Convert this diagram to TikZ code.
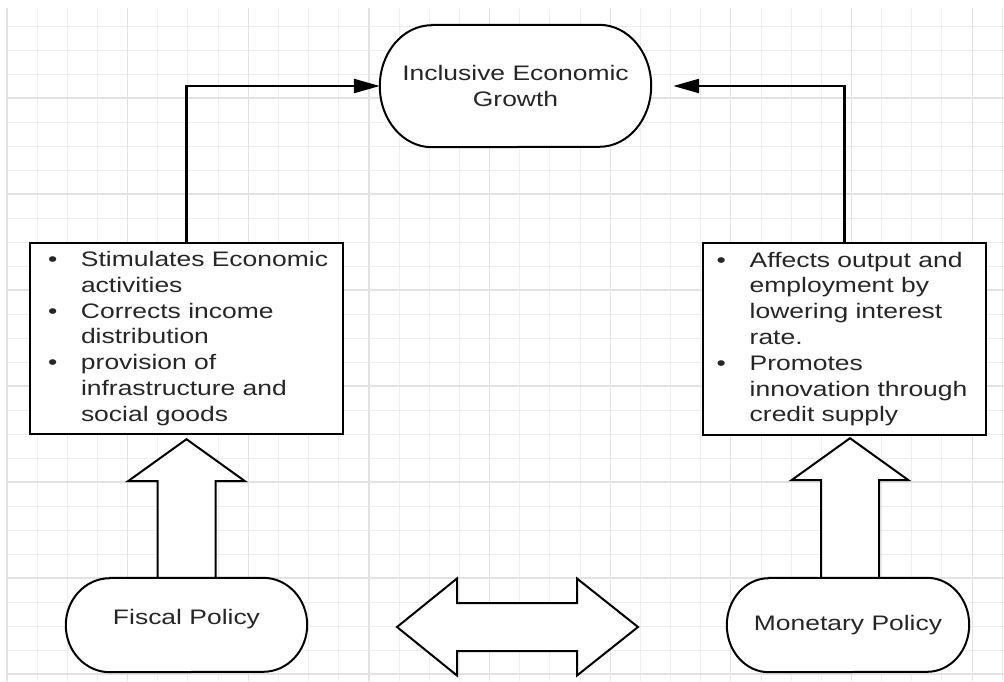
\documentclass[tikz,border=0pt]{standalone}
\usepackage{fontspec}
\setmainfont{Liberation Sans}[FakeStretch=1.26]
\usetikzlibrary{calc,arrows.meta}
\definecolor{gridminor}{HTML}{EDEDED}
\definecolor{gridmajor}{HTML}{E2E2E2}
\definecolor{txt}{HTML}{262626}
\pgfdeclarelayer{bg}
\pgfdeclarelayer{mid}
\pgfsetlayers{bg,mid,main}
\tikzset{
  gridminorline/.style={draw=gridminor, line width=1pt},
  gridmajorline/.style={draw=gridmajor, line width=1.2pt},
  shapeline/.style={draw=black, line width=2pt, fill=white},
  holder/.style={rectangle, draw=none, inner sep=0pt, text=txt, font=\fontsize{21}{25.8}\selectfont, align=center},
  boxnode/.style={rectangle, draw=black, line width=2.4pt, fill=white, inner sep=0pt},
  txtnode/.style={inner sep=0pt, text=txt, font=\fontsize{21}{25.8}\selectfont, align=left},
  conn/.style={draw=black, line width=2.4pt, -{Triangle[length=26pt,width=14pt]}},
  blockarrow/.style={draw=black, line width=2pt, fill=white, line join=miter},
}
\newcommand{\bul}{\makebox[33pt][l]{•}}
\newcommand{\ind}{\hspace*{33pt}}
\newcommand{\stadiumpath}[3]{%
  \draw[shapeline] ($(#1.north west)+(#2,0)$) -- ($(#1.north east)+(-#2,0)$)
    arc (-90:90:#2 and #3) -- ($(#1.south west)+(#2,0)$)
    arc (90:270:#2 and #3) -- cycle;}
\newcommand{\upblock}[2]{%
  \draw[blockarrow] let \p1=(#1), \p2=(#2) in
    (\x1-29pt,\y1) -- (\x1-29pt,\y2-42pt) -- (\x1-58.5pt,\y2-42pt) -- (\x1,\y2)
    -- (\x1+58.5pt,\y2-42pt) -- (\x1+29pt,\y2-42pt) -- (\x1+29pt,\y1) -- cycle;}
\begin{document}
\begin{tikzpicture}[x=1pt,y=-1pt]
\useasboundingbox (0,0) rectangle (1004,681);
\begin{pgfonlayer}{bg}
  \fill[white] (0,0) rectangle (1004,681);
  \foreach \k in {0,...,33} {
    \draw[gridminorline] ({7+30.16*\k},8) -- ({7+30.16*\k},681);
  }
  \foreach \k in {0,...,27} {
    \draw[gridminorline] (7,{26+24*\k}) -- (1004,{26+24*\k});
  }
  \foreach \k in {0,4,...,32} {
    \draw[gridmajorline] ({7+30.16*\k},8) -- ({7+30.16*\k},681);
  }
  \foreach \k in {0,...,6} {
    \draw[gridmajorline] (7,{98+96*\k}) -- (1004,{98+96*\k});
  }
\end{pgfonlayer}

% oval nodes
\node[holder, minimum width=271pt, minimum height=122pt] (top) at (515.5,86) {Inclusive Economic\\Growth};
\node[holder, minimum width=241pt, minimum height=94pt] (fisc) at (186.5,625) {\raisebox{1pt}[1pt][1pt]{Fiscal Policy}};
\node[holder, minimum width=242pt, minimum height=94pt] (mon) at (848,625) {Monetary Policy};

% boxes
\node[boxnode, minimum width=313pt, minimum height=191pt] (lbox) at (186.5,338.5) {};
\node[txtnode, anchor=west] (ltext) at ($(lbox.west)+(19,0)$)
  {\bul Stimulates Economic\\\ind activities\\\bul Corrects income\\\ind distribution\\\bul provision of\\\ind infrastructure and\\\ind social goods};
\node[boxnode, minimum width=283pt, minimum height=192pt] (rbox) at (844.5,339) {};
\node[txtnode, anchor=west] (rtext) at ($(rbox.west)+(14.7,0)$)
  {\bul Affects output and\\\ind employment by\\\ind lowering interest\\\ind rate.\\\bul Promotes\\\ind innovation through\\\ind credit supply};

\begin{pgfonlayer}{mid}
  \stadiumpath{top}{52}{61}
  \stadiumpath{fisc}{44}{47}
  \stadiumpath{mon}{42}{47}
  \upblock{fisc.north}{$(lbox.south)+(0,4)$}
  \upblock{$(mon.north)+(2,0)$}{$(rbox.south)+(0,2)$}
  \coordinate (dl) at (397,627);
  \coordinate (dr) at (638,627);
  \draw[blockarrow] let \p1=(dl), \p2=(dr) in
    (\p1) -- (\x1+60pt,\y1+48.5pt) -- (\x1+60pt,\y1+24pt) -- (\x2-61pt,\y1+24pt)
    -- (\x2-61pt,\y1+48.5pt) -- (\p2) -- (\x2-61pt,\y1-48.5pt) -- (\x2-61pt,\y1-24pt)
    -- (\x1+60pt,\y1-24pt) -- (\x1+60pt,\y1-48.5pt) -- cycle;
\end{pgfonlayer}

% connectors
\draw[conn] (lbox.north) |- (top.west);
\draw[conn, shorten >=22pt] (rbox.north) |- (top.east);
\end{tikzpicture}
\end{document}
